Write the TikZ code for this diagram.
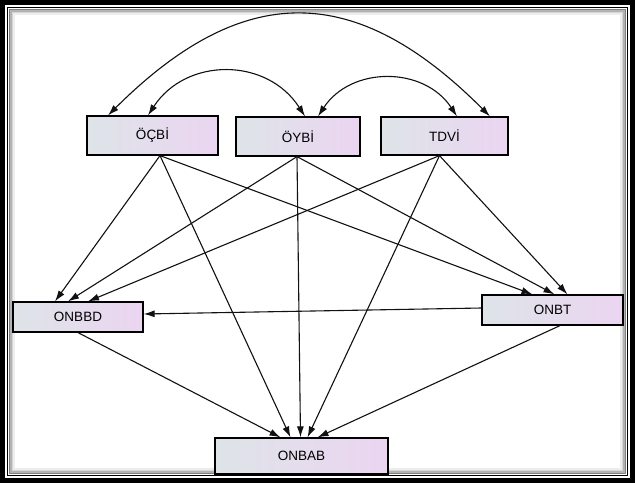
\documentclass[tikz,border=0pt]{standalone}
\usepackage{fontspec}
\setsansfont{Liberation Sans}
\usetikzlibrary{arrows.meta}
\definecolor{FrameBlack}{HTML}{000000}
\definecolor{BoxLeft}{HTML}{DEE4E8}
\definecolor{BoxRight}{HTML}{EBD5F1}
\definecolor{EdgeBlack}{HTML}{111111}

\begin{document}
\begin{tikzpicture}[x=1pt,y=-1pt,
    varbox/.style={draw=black, line width=1.2pt, left color=BoxLeft, right color=BoxRight,
      inner sep=0pt, font=\sffamily\fontsize{13.5}{15}\selectfont},
    link/.style={draw=EdgeBlack, line width=1.1pt, -{Latex[length=11pt,width=7pt]}},
    twoway/.style={link, {Latex[length=11pt,width=7pt]}-{Latex[length=11pt,width=7pt]}}]
        \useasboundingbox (0,0) rectangle (635,483);
        % frame
        \fill[FrameBlack] (0,0) rectangle (635,483);
        \fill[white] (5,5) rectangle (630,478);
        \draw[FrameBlack, line width=1.8pt] (7.5,7.5) rectangle (627.5,475.5);
        \foreach \d/\c in {1/50,2.5/30,4/16,5.5/7} {
          \draw[black!\c, line width=1.5pt] ({8.5+\d},{8.5+\d}) rectangle ({626.5-\d},{474.5-\d});
        }
        % variables
        \node[varbox, minimum width=131pt, minimum height=39pt] (oecbi) at (152.5,135.5) {ÖÇBİ};
        \node[varbox, minimum width=124pt, minimum height=39pt] (oeybi) at (298,136.5) {ÖYBİ};
        \node[varbox, minimum width=127pt, minimum height=38pt] (tdvi) at (444.5,136) {TDVİ};
        \node[varbox, minimum width=130pt, minimum height=30pt] (onbbd) at (78,317) {ONBBD};
        \node[varbox, minimum width=141pt, minimum height=30pt] (onbt) at (552.5,310) {ONBT};
        \node[varbox, minimum width=173pt, minimum height=36pt] (onbab) at (301.5,456) {ONBAB};
        % correlations
        \draw[twoway] ([xshift=-44.5pt]oecbi.north) .. controls (243,-19) and (355,-19) .. ([xshift=45.5pt]tdvi.north);
        \draw[twoway] ([xshift=-4.5pt]oecbi.north) .. controls (186,57) and (267,57) .. ([xshift=7pt]oeybi.north);
        \draw[twoway] ([xshift=20pt]oeybi.north) .. controls (351,66) and (424,66) .. ([xshift=12.5pt]tdvi.north);
        % paths
        \foreach \src/\sx/\dst/\dx in {oecbi/7.5/onbbd/-23, oecbi/7.5/onbt/-20, oecbi/7.5/onbab/-11,
            oeybi/-1/onbbd/-10, oeybi/-1/onbt/2, oeybi/-1/onbab/-1,
            tdvi/-5/onbbd/10, tdvi/-5/onbt/15, tdvi/-5/onbab/6,
            onbbd/0/onbab/-21, onbt/7.5/onbab/16} {
          \draw[link] ([xshift=\sx pt]\src.south) -- ([xshift=\dx pt]\dst.north);
        }
        \draw[link] ([yshift=2pt]onbt.west) -- ([yshift=3pt]onbbd.east);
      \end{tikzpicture}
\end{document}
